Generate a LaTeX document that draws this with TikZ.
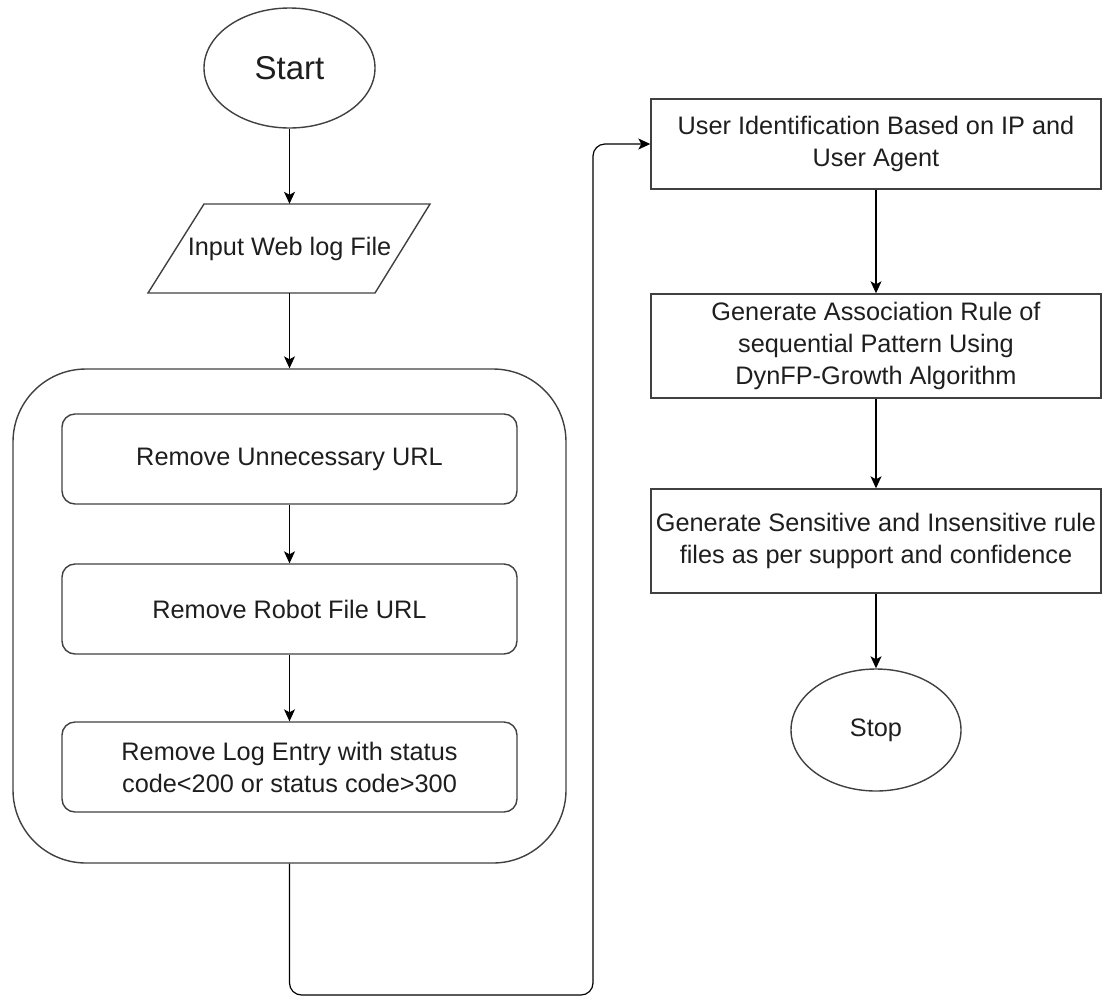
\documentclass[tikz,border=0pt]{standalone}
\usepackage{fontspec}
\setmainfont{Liberation Sans}
\usetikzlibrary{shapes.geometric,arrows.meta}
\definecolor{edge}{HTML}{404040}
\definecolor{txt}{HTML}{1E1E1E}
\tikzset{
  base/.style={draw=edge, line width=1.4pt, text=txt, inner sep=0pt, align=center,
    font=\fontsize{25.3}{32}\selectfont},
  oval/.style={base, ellipse},
  procbox/.style={base, rectangle},
  roundbox/.style={base, rectangle, rounded corners=13pt},
  bigbox/.style={draw=edge, line width=1.4pt, rectangle, rounded corners=73pt, inner sep=0pt},
  flow/.style={draw=black, line width=1.2pt, -{Stealth[length=12pt,width=11pt,inset=3pt]}},
}
\begin{document}
\begin{tikzpicture}[x=1pt,y=-1pt]
\useasboundingbox (0,0) rectangle (1103,997);
% left column
\node[oval, minimum width=171pt, minimum height=120pt, font=\fontsize{33}{40}\selectfont] (start) at (289.5,68) {Start};
\draw[draw=edge, line width=1.4pt] (204,204) -- (430,204) -- (375,293) -- (148,293) -- cycle;
\node[inner sep=0pt, text=txt, font=\fontsize{25.3}{32}\selectfont, minimum height=89pt, minimum width=10pt] (input) at (289.5,248.5) {Input Web log File};
\node[bigbox, minimum width=553pt, minimum height=494pt] (clean) at (289.5,616) {};
\node[roundbox, minimum width=455pt, minimum height=90pt] (r1) at (289.5,459) {Remove Unnecessary URL};
\node[roundbox, minimum width=455pt, minimum height=90pt] (r2) at (289.5,609) {Remove Robot File URL};
\node[roundbox, minimum width=455pt, minimum height=90pt] (r3) at (289.5,767) {Remove Log Entry with status\\code<200 or status code>300};
% right column
\node[procbox, minimum width=450pt, minimum height=90pt] (user) at (876,144) {User Identification Based on IP and\\User Agent};
\node[procbox, minimum width=450pt, minimum height=104pt] (assoc) at (876,346) {Generate Association Rule of\\sequential Pattern Using\\DynFP-Growth Algorithm};
\node[procbox, minimum width=450pt, minimum height=104pt] (sens) at (876,541) {Generate Sensitive and Insensitive rule\\files as per support and confidence};
\node[oval, minimum width=170pt, minimum height=122pt] (stop) at (876,730) {Stop};
% connectors
\draw[flow] (start) -- (input);
\draw[flow] (input) -- (clean);
\draw[flow] (r1) -- (r2);
\draw[flow] (r2) -- (r3);
\coordinate (b1) at (289.5,995);
\coordinate (b2) at (593,995);
\draw[flow, rounded corners=12pt] (clean.south) -- (b1) -- (b2) |- (user.west);
\draw[flow] (user) -- (assoc);
\draw[flow] (assoc) -- (sens);
\draw[flow] (sens) -- (stop);
\end{tikzpicture}
\end{document}
